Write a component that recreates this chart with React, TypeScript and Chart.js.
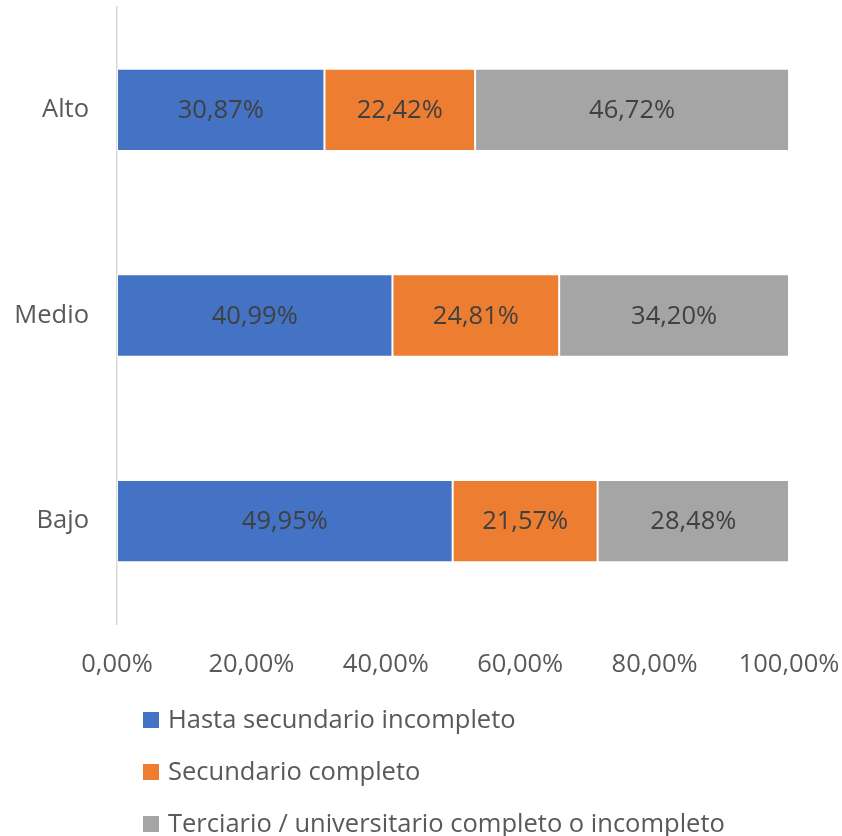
import React, { useEffect, useRef } from "react";
import { Chart, registerables } from "chart.js";

Chart.register(...registerables);

const categories = ["Alto", "Medio", "Bajo"];
const seriesNames = [
  "Hasta secundario incompleto",
  "Secundario completo",
  "Terciario / universitario completo o incompleto",
];
const hastaSecundario = [30.87, 40.99, 49.95];
const secundarioCompleto = [22.42, 24.81, 21.57];
const terciario = [46.72, 34.2, 28.48];
const xTicks = [0, 20, 40, 60, 80, 100];

const colors = ["#4472C4", "#ED7D31", "#A5A5A5"];
const FONT = "'Open Sans', 'Segoe UI', sans-serif";
const FS = 25.5;
const fmt = (v: number) => v.toFixed(2).replace(".", ",") + "%";

const dataLabelPlugin = {
  id: "dataLabels",
  afterDatasetsDraw(chart: any) {
    const ctx = chart.ctx;
    ctx.save();
    ctx.font = `${FS}px ${FONT}`;
    ctx.fillStyle = "#404040";
    ctx.textAlign = "center";
    ctx.textBaseline = "middle";
    chart.data.datasets.forEach((ds: any, di: number) => {
      const meta = chart.getDatasetMeta(di);
      meta.data.forEach((el: any, i: number) => {
        const cx = (el.x + el.base) / 2;
        ctx.fillText(fmt(ds.data[i]), cx, el.y + 1);
      });
    });
    ctx.restore();
  },
};

const legendPlugin = {
  id: "customLegend",
  afterDraw(chart: any) {
    const ctx = chart.ctx;
    ctx.save();
    ctx.font = `${FS}px ${FONT}`;
    ctx.textBaseline = "middle";
    ctx.textAlign = "left";
    chart.data.datasets.forEach((ds: any, i: number) => {
      const y = 720 + i * 52;
      ctx.fillStyle = ds.backgroundColor;
      ctx.fillRect(143, y - 8, 16, 16);
      ctx.fillStyle = "#595959";
      ctx.fillText(ds.label, 168, y + 1);
    });
    ctx.restore();
  },
};

const zeroPad = (axis: any) => {
  axis.paddingTop = 0;
  axis.paddingBottom = 0;
  axis.paddingLeft = 0;
  axis.paddingRight = 0;
};

export default function App() {
  const ref = useRef<HTMLCanvasElement>(null);
  useEffect(() => {
    if (!ref.current) return;
    const chart = new Chart(ref.current, {
      type: "bar",
      data: {
        labels: categories,
        datasets: [hastaSecundario, secundarioCompleto, terciario].map((d, i) => ({
          label: seriesNames[i],
          data: d,
          backgroundColor: colors[i],
          borderColor: "rgba(255,255,255,0.6)",
          borderWidth: 1,
          borderSkipped: false,
          categoryPercentage: 1,
          barPercentage: 0.4,
        })),
      },
      options: {
        indexAxis: "y",
        animation: false,
        responsive: false,
        maintainAspectRatio: false,
        layout: { padding: { top: 7, right: 53, left: 0, bottom: 0 } },
        plugins: {
          legend: { display: false },
          tooltip: { enabled: false },
        },
        scales: {
          x: {
            stacked: true,
            min: 0,
            max: 100,
            afterBuildTicks: (axis: any) => {
              axis.ticks = xTicks.map((v) => ({ value: v }));
            },
            afterFit: (axis: any) => {
              axis.height = 212;
              zeroPad(axis);
            },
            grid: { display: false, drawTicks: false },
            border: { display: false },
            ticks: {
              padding: 25,
              color: "#595959",
              font: { family: FONT, size: FS },
              maxRotation: 0,
              callback: (v: any) => fmt(Number(v)),
            },
          },
          y: {
            stacked: true,
            afterFit: (axis: any) => {
              axis.width = 117;
              zeroPad(axis);
            },
            grid: { display: false, drawTicks: false },
            border: { display: true, color: "#D9D9D9", width: 1.5 },
            ticks: {
              padding: 28,
              color: "#595959",
              font: { family: FONT, size: FS },
            },
          },
        },
      },
      plugins: [dataLabelPlugin, legendPlugin],
    } as any);
    return () => chart.destroy();
  }, []);
  return (
    <div style={{ position: "absolute", left: 0, top: 0, width: 842, height: 836, background: "#fff" }}>
      <canvas ref={ref} width={842} height={836} style={{ width: 842, height: 836 }} />
    </div>
  );
}
